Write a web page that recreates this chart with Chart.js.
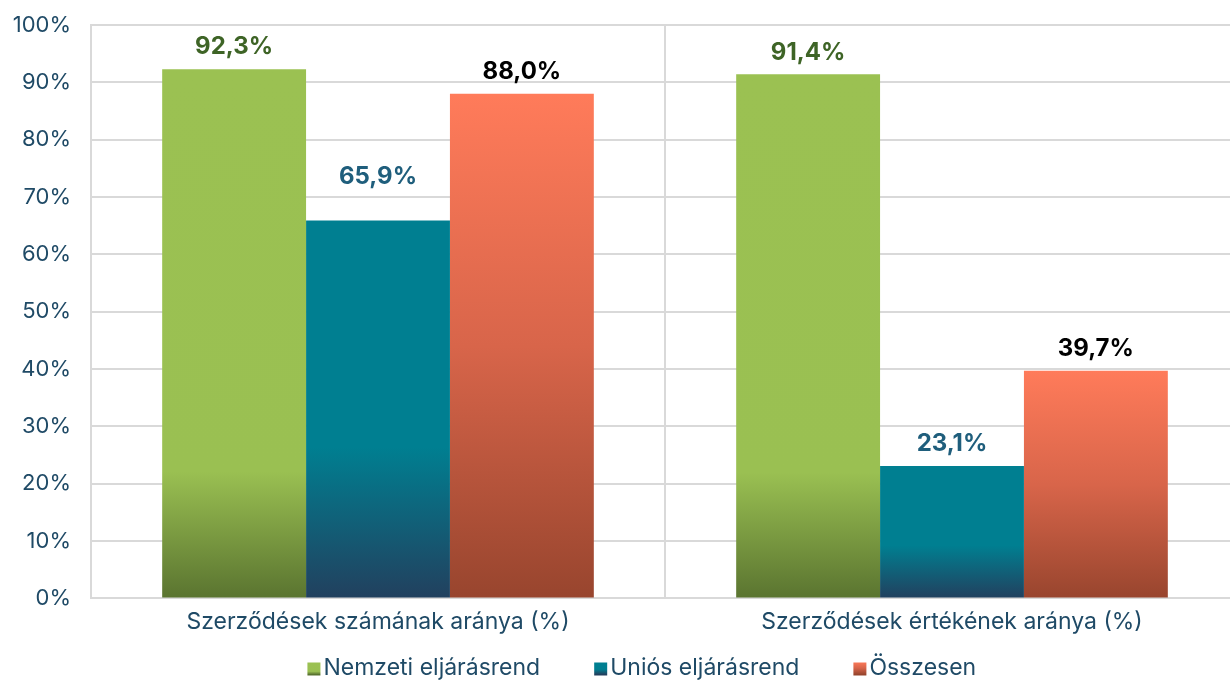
<!DOCTYPE html>
<html>
<head>
<meta charset="utf-8">
<script src="https://cdn.jsdelivr.net/npm/chart.js@4.4.1/dist/chart.umd.min.js"></script>
<style>
    html, body { margin: 0; padding: 0; background: #fff; overflow: hidden; }
    #wrap { width: 1239px; height: 681px; }
</style>
</head>
<body>
<div id="wrap"><canvas id="chart"></canvas></div>
<script>
// chart values
const categories = ['Szerződések számának aránya (%)', 'Szerződések értékének aránya (%)'];
const seriesNames = ['Nemzeti eljárásrend', 'Uniós eljárásrend', 'Összesen'];
const nemzeti = [92.3, 91.4];
const unios = [65.9, 23.1];
const osszesen = [88.0, 39.7];
const yTicks = [0, 10, 20, 30, 40, 50, 60, 70, 80, 90, 100];

const textColor = '#1F4A66';
const gridColor = '#D9D9D9';
const fontFamily = 'Inter, "Noto Sans", sans-serif';

const greenStops = [[0, '#9BC152'], [0.76, '#9AC052'], [1, '#5A7430']];
const tealStops = [[0, '#007F91'], [0.6, '#007F91'], [1, '#22405E']];
const orangeStops = [[0, '#FF7B5A'], [0.5, '#D8654A'], [1, '#98452E']];
const labelColors = ['#3E6426', '#1F5E7C', '#000000'];

function fmt(v) {
    return v.toFixed(1).replace('.', ',') + '%';
}

// per-bar vertical gradient, from the bar top down to the zero line
function barFill(stops) {
    return function (ctx) {
        const chart = ctx.chart;
        if (!chart.chartArea || ctx.type !== 'data') return stops[0][1];
        const y = chart.scales.y;
        const top = y.getPixelForValue(ctx.raw);
        const bottom = y.getPixelForValue(0);
        const g = chart.ctx.createLinearGradient(0, top, 0, bottom);
        stops.forEach(s => g.addColorStop(s[0], s[1]));
        return g;
    };
}

const valueLabels = {
    id: 'valueLabels',
    afterDatasetsDraw(chart) {
        const ctx = chart.ctx;
        // the first Uniós label sits higher above its bar than the others
        const extraLift = (i, j) => (i === 1 && j === 0 ? 22 : 0);
        ctx.save();
        ctx.font = 'bold 24px ' + fontFamily;
        ctx.textAlign = 'center';
        ctx.textBaseline = 'middle';
        chart.data.datasets.forEach((ds, i) => {
            const meta = chart.getDatasetMeta(i);
            ctx.fillStyle = labelColors[i];
            meta.data.forEach((bar, j) => {
                ctx.fillText(fmt(ds.data[j]), bar.x, bar.y - 22 - extraLift(i, j));
            });
        });
        ctx.restore();
    }
};

const bottomLegend = {
    id: 'bottomLegend',
    afterDraw(chart) {
        const ctx = chart.ctx;
        const stops = [greenStops, tealStops, orangeStops];
        const box = 13, gapText = 3, gapItem = 54;
        ctx.save();
        ctx.font = '23px ' + fontFamily;
        ctx.textBaseline = 'middle';
        const widths = seriesNames.map(n => ctx.measureText(n).width);
        let total = widths.reduce((a, w) => a + box + gapText + w, 0) + gapItem * (seriesNames.length - 1);
        let x = chart.width * 0.518 - total / 2;
        const y = 668;
        seriesNames.forEach((name, i) => {
            const g = ctx.createLinearGradient(0, y - box / 2, 0, y + box / 2);
            stops[i].forEach(s => g.addColorStop(s[0], s[1]));
            ctx.fillStyle = g;
            ctx.fillRect(x, y - box / 2 + 1, box, box);
            x += box + gapText;
            ctx.fillStyle = textColor;
            ctx.fillText(name, x, y);
            x += widths[i] + gapItem;
        });
        ctx.restore();
    }
};

new Chart(document.getElementById('chart'), {
    type: 'bar',
    data: {
        labels: categories,
        datasets: [
            { label: seriesNames[0], data: nemzeti, backgroundColor: barFill(greenStops) },
            { label: seriesNames[1], data: unios, backgroundColor: barFill(tealStops) },
            { label: seriesNames[2], data: osszesen, backgroundColor: barFill(orangeStops) }
        ]
    },
    options: {
        responsive: true,
        maintainAspectRatio: false,
        animation: false,
        layout: { padding: { top: 25, right: 0, bottom: 35, left: 0 } },
        datasets: {
            bar: { categoryPercentage: 0.752, barPercentage: 1.0, borderWidth: 0 }
        },
        scales: {
            x: {
                grid: { color: gridColor, lineWidth: 2, drawTicks: false, offset: true },
                border: { color: gridColor, width: 2 },
                ticks: {
                    color: textColor,
                    padding: 10,
                    font: { family: fontFamily, size: 23 }
                }
            },
            y: {
                min: 0,
                max: 100,
                afterFit: scale => {
                    scale.width = 91;
                    scale.paddingTop = 0;
                    scale.paddingBottom = 0;
                },
                afterBuildTicks: scale => { scale.ticks = yTicks.map(v => ({ value: v })); },
                grid: { color: gridColor, lineWidth: 2, drawTicks: false },
                border: { color: gridColor, width: 2 },
                ticks: {
                    color: textColor,
                    padding: 20,
                    font: { family: fontFamily, size: 22 },
                    callback: v => v + '%'
                }
            }
        },
        plugins: {
            legend: { display: false },
            tooltip: { enabled: false }
        }
    },
    plugins: [valueLabels, bottomLegend]
});
</script>
</body>
</html>
